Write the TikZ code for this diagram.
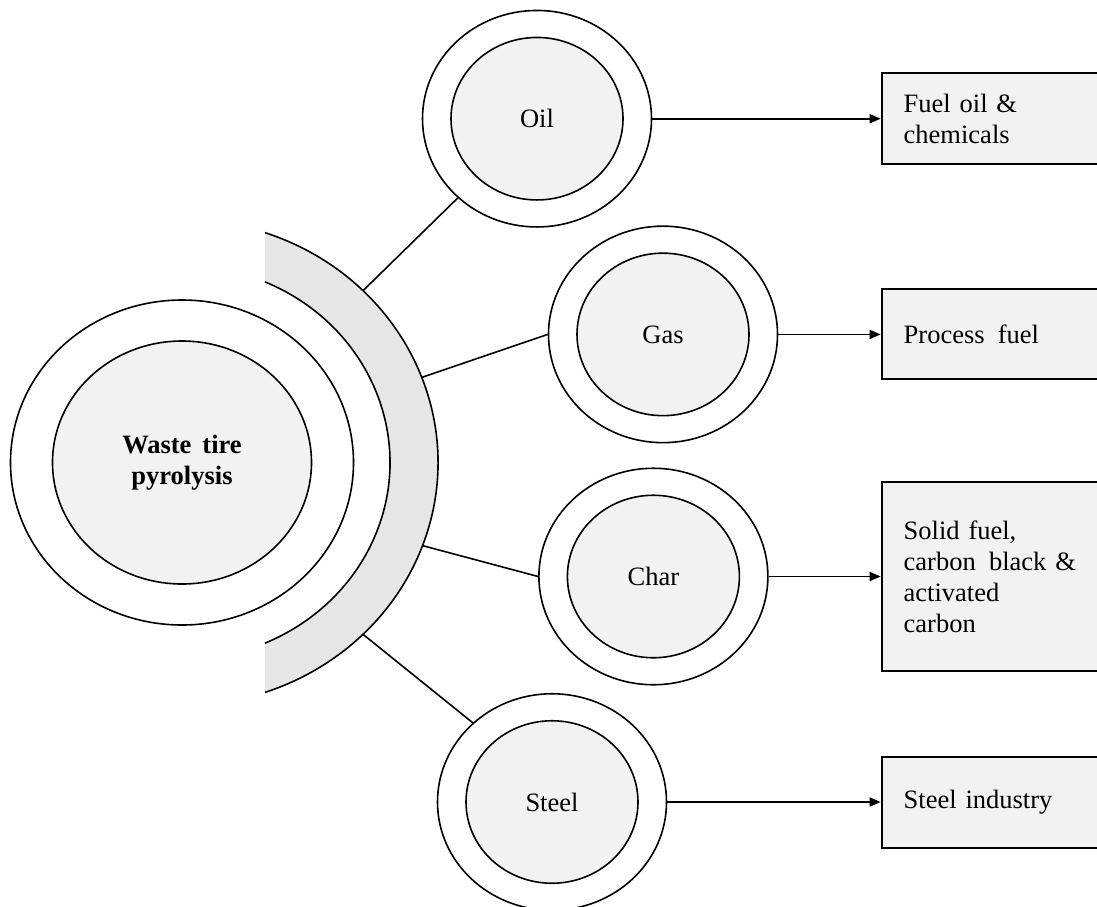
\documentclass[tikz,border=0pt]{standalone}
\usepackage{fontspec}
\setmainfont{Liberation Serif}
\usetikzlibrary{shapes.geometric,arrows.meta,calc}

\definecolor{corefill}{HTML}{F2F2F2}
\definecolor{bandfill}{HTML}{E6E6E6}
\definecolor{boxfill}{HTML}{F2F2F2}

\begin{document}
\begin{tikzpicture}[x=1pt,y=-1pt,
  font=\fontsize{26.5pt}{31pt}\selectfont,
  ring/.style={ellipse,draw,line width=1.6pt,fill=white,inner sep=0pt},
  core/.style={ellipse,draw,line width=1.6pt,fill=corefill,inner sep=0pt,align=center},
  bigring/.style={ring,minimum width=343pt,minimum height=325pt},
  bigcore/.style={core,minimum width=259pt,minimum height=243pt,font=\fontsize{26.5pt}{31pt}\selectfont\bfseries},
  smallring/.style={ring,minimum width=229pt,minimum height=216.5pt},
  smallcore/.style={core,minimum width=172pt,minimum height=162.5pt},
  usebox/.style={rectangle,draw,line width=2pt,fill=boxfill,anchor=west,
    minimum width=240pt,text width=196pt,inner xsep=22pt,align=left},
  link/.style={line width=1.6pt},
  feed/.style={line width=1.6pt,-{Triangle[length=11pt,width=9pt]}},
]
\useasboundingbox (0,0) rectangle (1097,906);
\clip (0,0) rectangle (1097,906);

% centre of the feedstock rings and the surrounding band
\coordinate (c) at (182,462.5);

% shaded half band around the central rings
\fill[bandfill]
  ($(c)+(71.08:256pt and 243pt)$) arc[start angle=71.08,end angle=-71.08,x radius=256pt,y radius=243pt]
  -- ($(c)+(-66.48:208pt and 197pt)$) arc[start angle=-66.48,end angle=66.48,x radius=208pt,y radius=197pt]
  -- cycle;
\draw[line width=1.6pt]
  ($(c)+(71.08:256pt and 243pt)$) arc[start angle=71.08,end angle=-71.08,x radius=256pt,y radius=243pt];
\draw[line width=1.6pt]
  ($(c)+(66.48:208pt and 197pt)$) arc[start angle=66.48,end angle=-66.48,x radius=208pt,y radius=197pt];

% central process
\node[bigring] (mainring) at (c) {};
\node[bigcore] (main) at (c) {Waste\, tire\\pyrolysis};

% products
\node[smallring] (oilring) at (537,118.7) {};
\node[smallcore] (oil) at (537,118.7) {Oil};
\node[smallring] (gasring) at (663,334.4) {};
\node[smallcore] (gas) at (663,334.4) {Gas};
\node[smallring] (charring) at (653.4,576.5) {};
\node[smallcore] (char) at (653.4,576.5) {Char};
\node[smallring] (steelring) at (552,802) {};
\node[smallcore] (steel) at (552,802) {Steel};

% applications
\node[usebox,minimum height=91pt] (fuel) at (880.7,118.7) {Fuel oil \&\\chemicals};
\node[usebox,minimum height=90pt] (proc) at (880.7,334.4) {Process\, fuel};
\node[usebox,minimum height=189pt] (solid) at (880.7,576.5) {Solid fuel,\\carbon\, black \&\\activated\\carbon};
\node[usebox,minimum height=91pt] (ind) at (880.7,802) {Steel industry};

% start points of the links on the band
\coordinate (boil) at ($(c)+(45:256pt and 243pt)$);
\coordinate (bgas) at ($(c)+(20.5:256pt and 243pt)$);
\coordinate (bchar) at ($(c)+(-20:256pt and 243pt)$);
\coordinate (bsteel) at ($(c)+(-45:256pt and 243pt)$);

\draw[link] (boil) -- (oilring.225);
\draw[link] (bgas) -- (gasring.west);
\draw[link] (bchar) -- (charring.west);
\draw[link] (bsteel) -- (steelring.135);

\draw[feed] (oilring.east) -- (fuel.west);
\draw[feed] (gasring.east) -- (proc.west);
\draw[feed] (charring.east) -- (solid.west);
\draw[feed] (steelring.east) -- (ind.west);
\end{tikzpicture}
\end{document}
